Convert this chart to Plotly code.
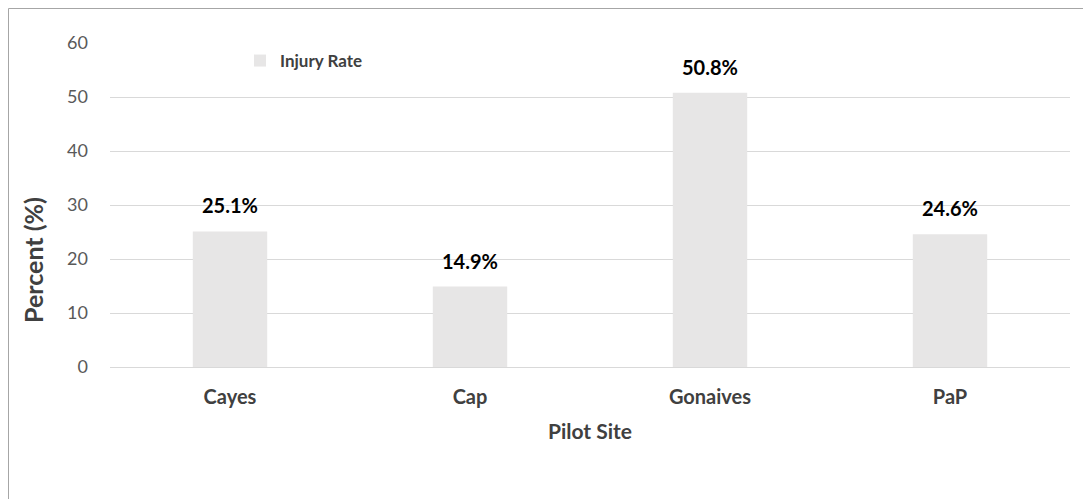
import plotly.graph_objects as go

sites = ["Cayes", "Cap", "Gonaives", "PaP"]
injury_rate = [25.1, 14.9, 50.8, 24.6]
labels = ["25.1%", "14.9%", "50.8%", "24.6%"]
y_ticks = [0, 10, 20, 30, 40, 50, 60]

W, H = 1091, 499
# page is offset by the 8px body margin; compensate so plot area lands at x 110-1070, y 43-367
L, T = 102, 35
pw, ph = 960, 324
R, B = W - L - pw, H - T - ph

FONT = "Lato, 'Open Sans', sans-serif"

fig = go.Figure()
fig.add_trace(go.Bar(
    x=sites, y=injury_rate, name="<b>Injury Rate</b>",
    marker=dict(color="#E7E6E6", line=dict(width=0)),
    width=0.31,
))

for s, v, lab in zip(sites, injury_rate, labels):
    fig.add_annotation(x=s, y=v, text=f"<b>{lab}</b>", showarrow=False,
                       yshift=26, font=dict(family=FONT, size=20, color="#000000"))

# y-axis title (sits lower than the plot centre in the original)
fig.add_annotation(xref="paper", yref="paper", x=(25 - L) / pw, y=(T + ph - 252) / ph,
                   text="<b>Percent (%)</b>", textangle=-90, showarrow=False,
                   xanchor="center", yanchor="middle",
                   font=dict(family=FONT, size=25, color="#404040"))

fig.add_shape(type="rect", xref="paper", yref="paper",
              x0=(0.5 - L) / pw, x1=(1081 - L) / pw,
              y0=-(B + 20) / ph, y1=1 + (T - 0.5) / ph,
              line=dict(color="#A6A6A6", width=1), fillcolor="rgba(0,0,0,0)", layer="below")

fig.update_layout(
    width=W, height=H,
    margin=dict(l=L, r=R, t=T, b=B, autoexpand=False),
    paper_bgcolor="white", plot_bgcolor="white",
    font=dict(family=FONT, color="#595959"),
    bargap=0.69,
    showlegend=True,
    legend=dict(x=(240 - 110) / pw, y=(367 - 61) / ph, xanchor="left", yanchor="middle",
                bgcolor="rgba(0,0,0,0)", font=dict(family=FONT, size=17, color="#404040"),
                itemwidth=30),
    xaxis=dict(
        tickfont=dict(family=FONT, size=20, color="#404040"),
        tickprefix="<b>", ticksuffix="</b>",
        showgrid=False, showline=False, ticks="",
        ticklabelstandoff=16,
        title=dict(text="<b>Pilot Site</b>", font=dict(family=FONT, size=21, color="#404040"), standoff=17),
    ),
    yaxis=dict(
        range=[0, 60], tickvals=y_ticks,
        tickfont=dict(family=FONT, size=18, color="#595959"),
        showgrid=True, gridcolor="#D9D9D9", gridwidth=1,
        zeroline=True, zerolinecolor="#D9D9D9", zerolinewidth=1,
        showline=False, ticks="", ticklabelstandoff=21,
    ),
)
fig.write_html("out.html")
